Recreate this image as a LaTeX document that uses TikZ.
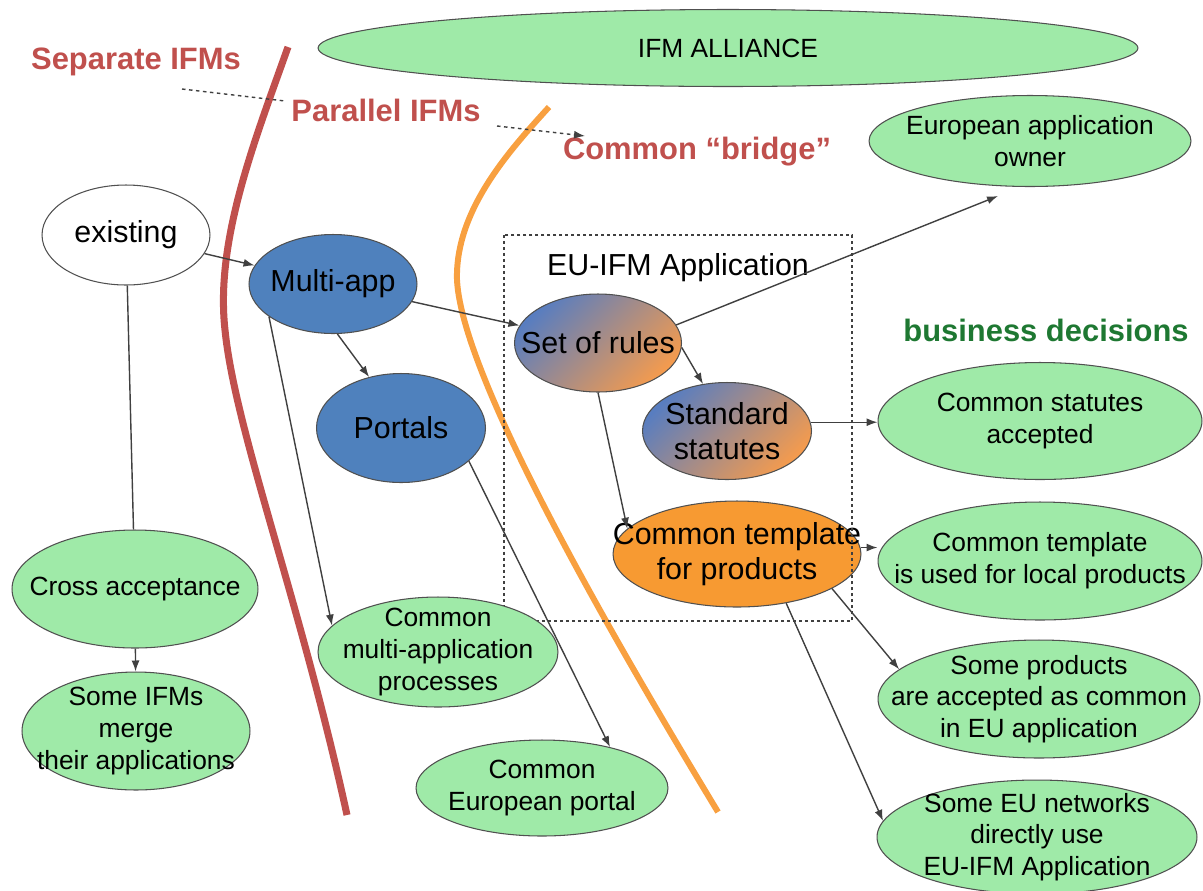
\documentclass[tikz,border=0pt]{standalone}
\usepackage{fontspec}
\setmainfont{Liberation Sans}
\usepackage{xcolor}
\usepackage{tikz}
\usetikzlibrary{shapes.geometric,arrows.meta}
\definecolor{ifmgreen}{RGB}{159,234,168}
\definecolor{ifmblue}{RGB}{79,129,189}
\definecolor{ifmorange}{RGB}{247,154,50}
\definecolor{mixblue}{RGB}{88,125,192}
\definecolor{mixorange}{RGB}{244,155,78}
\definecolor{ifmred}{RGB}{192,80,77}
\definecolor{bridgeorange}{RGB}{248,160,64}
\definecolor{decgreen}{RGB}{30,120,50}
\definecolor{edgegray}{RGB}{80,80,80}
\definecolor{linkgray}{RGB}{64,64,64}
\newcommand{\ifmbig}{\fontsize{17.3}{19.8}\selectfont}
\newcommand{\ifmsmall}{\fontsize{15}{18.1}\selectfont}
\newcommand{\ifmtag}{\fontsize{17.6}{20}\selectfont\bfseries}

\begin{document}
\begin{tikzpicture}[x=0.02cm,y=-0.02cm,
  oval/.style={ellipse,draw=edgegray,line width=0.6pt,inner xsep=-1cm,inner ysep=-0.3cm,align=center,text=black},
  goal/.style={oval,fill=ifmgreen,font=\ifmsmall},
  appl/.style={oval,fill=ifmblue,font=\ifmbig},
  mixed/.style={oval,top color=mixblue,bottom color=mixorange,shading angle=45,font=\ifmbig},
  tag/.style={font=\ifmtag},
  link/.style={draw=linkgray,line width=0.8pt,-{Latex[length=2.2mm,width=1.6mm]}},
  plain/.style={draw=linkgray,line width=0.8pt},
  hint/.style={draw=linkgray,line width=0.8pt,dash pattern=on 2pt off 2pt}]
\useasboundingbox (0,0) rectangle (1203,890);
%\draw[help lines] (0,0) grid (1203,890);
\draw[ifmred,line width=4pt] (288,47) .. controls (255,140) and (215,240) .. (225,330) .. controls (235,430) and (300,600) .. (347,815);
\draw[bridgeorange,line width=3.4pt] (549,107) .. controls (510,150) and (455,210) .. (457,280) .. controls (462,380) and (620,650) .. (718,812);

\node[goal,minimum width=16.4cm,minimum height=1.54cm] (alliance) at (728,48) {IFM ALLIANCE};
\node[tag,text=ifmred] (sepifm) at (136,62) {Separate IFMs};
\node[tag,text=ifmred] (parifm) at (386,110) {Parallel IFMs};
\node[tag,text=ifmred] (bridge) at (697,152) {Common “bridge”};
\node[tag,text=decgreen] (decisions) at (1046,330) {business decisions};
\coordinate (d1a) at (182,89);
\coordinate (d1b) at (285,101);
\coordinate (d2a) at (497,126);
\coordinate (d2b) at (585,136);
\draw[hint] (d1a) -- (d1b);
\draw[hint,-{Latex[length=2.2mm,width=1.6mm]}] (d2a) -- (d2b);

\node[oval,fill=ifmorange,font=\ifmbig,minimum width=4.96cm,minimum height=2.12cm] (template) at (737,554) {Common template\\for products};
\draw[linkgray,line width=0.8pt,dash pattern=on 1.7pt off 1.7pt] (504,235) rectangle (852,621);
\node[font=\ifmbig] (euifm) at (678,268) {EU-IFM Application};

\node[oval,fill=white,font=\ifmbig,minimum width=3.36cm,minimum height=2cm] (existing) at (126,235) {existing};
\node[appl,minimum width=3.36cm,minimum height=1.98cm] (multiapp) at (333,284) {Multi-app};
\node[appl,minimum width=3.38cm,minimum height=2.18cm] (portals) at (401,428) {Portals};
\node[mixed,minimum width=3.34cm,minimum height=1.96cm] (rules) at (598,343) {Set of rules};
\node[mixed,minimum width=3.38cm,minimum height=1.94cm] (statutes) at (727,431) {Standard\\statutes};

\node[goal,minimum width=6.44cm,minimum height=1.82cm] (owner) at (1030,141) {European application\\owner};
\node[goal,minimum width=6.48cm,minimum height=2.34cm] (accepted) at (1040,421) {Common statutes\\accepted};
\node[goal,minimum width=6.48cm,minimum height=2.36cm] (localprod) at (1040,561) {Common template\\is used for local products};
\node[goal,minimum width=6.44cm,minimum height=2.36cm] (common) at (1039,699) {Some products\\are accepted as common\\in EU application};
\node[goal,minimum width=6.4cm,minimum height=2.28cm] (networks) at (1037,837) {Some EU networks\\directly use\\EU-IFM Application};
\node[goal,minimum width=4.92cm,minimum height=2.36cm] (cross) at (135,589) {Cross acceptance};
\node[goal,minimum width=4.56cm,minimum height=2.36cm] (merge) at (136,731) {Some IFMs\\merge\\their applications};
\node[goal,minimum width=4.8cm,minimum height=2.2cm] (multiproc) at (438,652) {Common\\multi-application\\processes};
\node[goal,minimum width=5.04cm,minimum height=1.92cm] (europortal) at (542,788) {Common\\European portal};

\coordinate (ownertip) at (998,196);
\draw[link] (existing) -- (multiapp);
\draw[plain] (existing) -- (cross);
\draw[link] (cross) -- (merge);
\draw[link] (multiapp) -- (rules);
\draw[link] (multiapp.-85) -- (portals.122);
\draw[link] (multiapp.207) -- (multiproc.166);
\draw[link] (portals.-26) -- (europortal.31);
\draw[link] (rules.13) -- (ownertip);
\draw[link] (rules.-3) -- (statutes.117);
\draw[link] (rules.south) -- (template.167);
\draw[link] (statutes.6) -- (statutes.6 -| accepted.west);
\draw[link] (template.3) -- (template.3 -| localprod.west);
\draw[link] (template.-20) -- (common.168);
\draw[link] (template.-45) -- (networks.174);
\end{tikzpicture}
\end{document}
